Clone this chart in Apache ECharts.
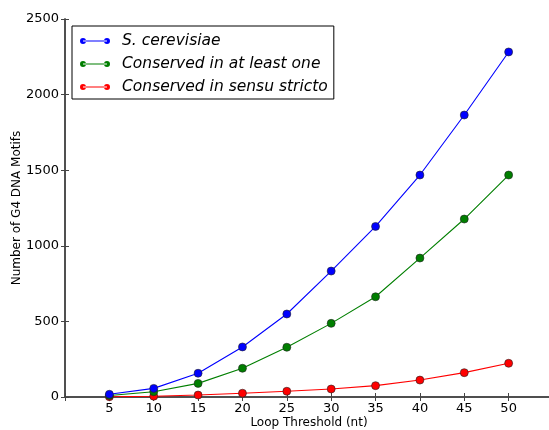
<!DOCTYPE html>
<html><head><meta charset="utf-8">
<script src="https://cdn.jsdelivr.net/npm/echarts@6/dist/echarts.min.js"></script>
<style>html,body{margin:0;padding:0;background:#fff;overflow:hidden}#c{width:553px;height:430px}</style>
</head><body><div id="c"></div>
<script>
const thresholds = [5, 10, 15, 20, 25, 30, 35, 40, 45, 50];
const cerevisiae = [18, 57, 157, 331, 549, 833, 1128, 1468, 1865, 2282];
const conservedAtLeastOne = [10, 35, 90, 190, 329, 487, 663, 919, 1177, 1468];
const conservedSensuStricto = [2, 5, 13, 25, 38, 53, 75, 112, 161, 223];
const yTicks = [0, 500, 1000, 1500, 2000, 2500];

const names = ['S. cerevisiae', 'Conserved in at least one', 'Conserved in sensu stricto'];
const colors = ['#0000ff', '#007f00', '#ff0000'];
const datasets = [cerevisiae, conservedAtLeastOne, conservedSensuStricto];

const icon = 'path://M3,5 m-3,0 a3,3 0 1,0 6,0 a3,3 0 1,0 -6,0 M27,5 m-3,0 a3,3 0 1,0 6,0 a3,3 0 1,0 -6,0 M3,4.5 L27,4.5 L27,5.5 L3,5.5 Z';

const axisLineStyle = {color: '#444', width: 1.5};
const font = 'DejaVu Sans';

const chart = echarts.init(document.getElementById('c'), null, {renderer: 'canvas'});
chart.setOption({
  animation: false,
  backgroundColor: '#fff',
  grid: {left: 65, right: 0, top: 19, bottom: 33, containLabel: false, outerBoundsMode: 'none'},
  legend: {
    left: 72, top: 26, orient: 'vertical',
    data: names,
    icon: icon,
    itemWidth: 30, itemHeight: 8, itemGap: 7,
    padding: [7, 6, 4, 8],
    borderColor: '#000', borderWidth: 1, backgroundColor: '#fff',
    itemStyle: {borderWidth: 0},
    textStyle: {fontFamily: font, fontStyle: 'italic', fontSize: 15.5, color: '#000', padding: [0, 0, 0, 7]}
  },
  xAxis: [{
    type: 'value', min: 0, max: 55, interval: 5, position: 'bottom',
    name: 'Loop Threshold (nt)', nameLocation: 'middle', nameGap: 20, nameMoveOverlap: false,
    nameTextStyle: {fontFamily: font, fontSize: 12, color: '#000'},
    axisLine: {show: true, lineStyle: axisLineStyle},
    axisTick: {show: true, inside: true, length: 4, lineStyle: {color: '#444'}},
    axisLabel: {fontFamily: font, fontSize: 13, color: '#000', margin: 5,
      formatter: v => thresholds.includes(v) ? String(v) : ''},
    splitLine: {show: false}
  }, {
    type: 'value', min: 0, max: 55, interval: 5, position: 'top',
    axisLine: {show: true, lineStyle: axisLineStyle},
    axisTick: {show: true, inside: true, length: 4, lineStyle: {color: '#444'}},
    axisLabel: {show: false}, splitLine: {show: false}
  }],
  yAxis: [{
    type: 'value', min: yTicks[0], max: yTicks[yTicks.length - 1], interval: 500, position: 'left',
    name: 'Number of G4 DNA Motifs', nameLocation: 'middle', nameGap: 42, nameMoveOverlap: false,
    nameTextStyle: {fontFamily: font, fontSize: 12, color: '#000'},
    axisLine: {show: true, lineStyle: axisLineStyle},
    axisTick: {show: true, inside: true, length: 4, lineStyle: {color: '#444'}},
    axisLabel: {fontFamily: font, fontSize: 13, color: '#000', margin: 6, formatter: v => String(v)},
    splitLine: {show: false}
  }, {
    type: 'value', min: yTicks[0], max: yTicks[yTicks.length - 1], interval: 500, position: 'right',
    axisLine: {show: true, lineStyle: axisLineStyle},
    axisTick: {show: true, inside: true, length: 4, lineStyle: {color: '#444'}},
    axisLabel: {show: false}, splitLine: {show: false}
  }],
  series: datasets.map((d, i) => ({
    name: names[i], type: 'line', xAxisIndex: 0, yAxisIndex: 0,
    data: thresholds.map((t, j) => [t, d[j]]),
    symbol: 'circle', symbolSize: 8,
    lineStyle: {color: colors[i], width: 1.1},
    itemStyle: {color: colors[i], borderColor: '#222', borderWidth: 0.6},
    z: 10 - i
  }))
});
</script></body></html>
